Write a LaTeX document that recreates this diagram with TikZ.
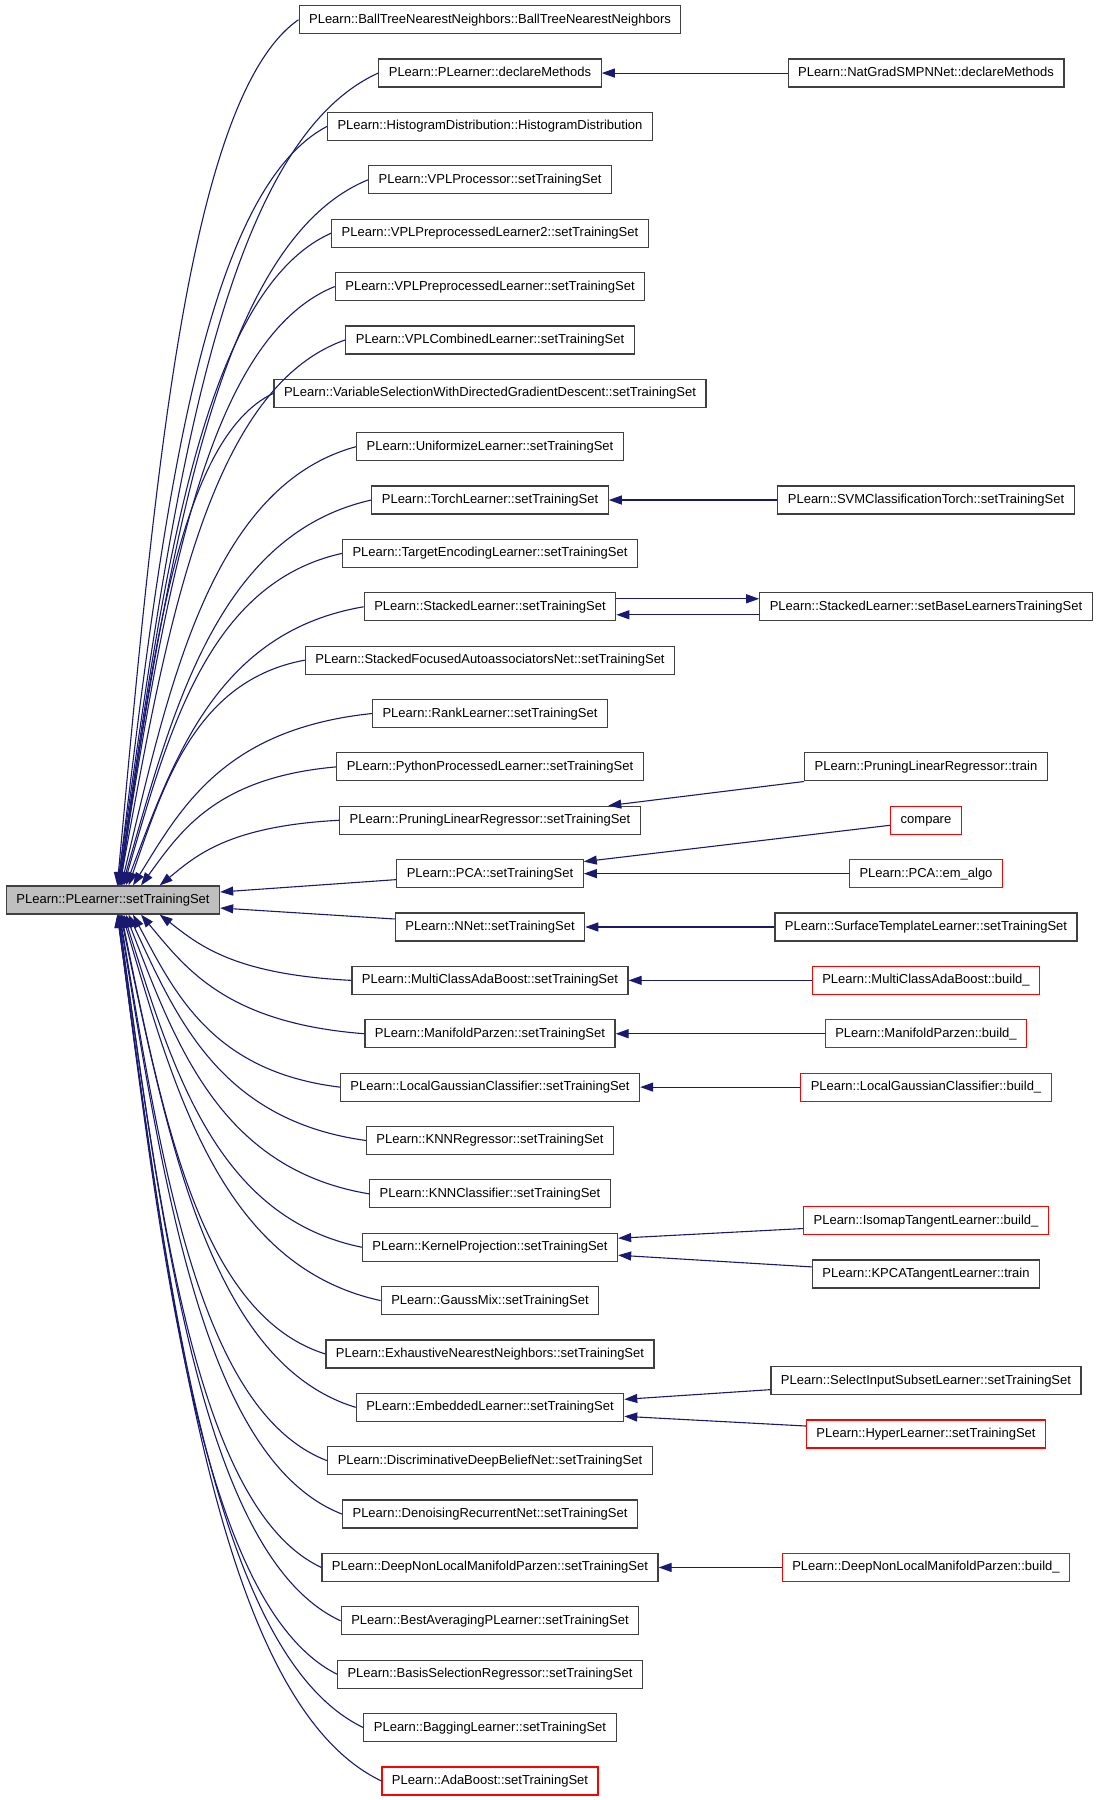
\documentclass[tikz,border=0pt]{standalone}
\usepackage{fontspec}
\setmainfont{Liberation Sans}
\usetikzlibrary{arrows.meta,calc}
\definecolor{edgeblue}{HTML}{191970}
\definecolor{boxgray}{HTML}{404040}
\definecolor{boxred}{HTML}{FF0000}
\definecolor{rootgray}{HTML}{BFBFBF}

\begin{document}
\begin{tikzpicture}[x=1pt, y=-1pt,
    box/.style={draw=boxgray, line width=1.2pt, fill=white, font=\fontsize{13pt}{15pt}\selectfont,
        inner xsep=10pt, inner ysep=0pt, minimum height=28pt, text height=9.5pt, text depth=2.5pt},
    redbox/.style={box, draw=boxred},
    rootbox/.style={box, fill=rootgray},
    edge/.style={draw=edgeblue, line width=1.1pt, -{Triangle[length=13pt, width=9pt]}}]
        \def\midx{490}
        \def\rightx{926}
        \def\rowh{53.37}

        \useasboundingbox (0, 0) rectangle (1099, 1800);

        % The called method on the left
        \node[rootbox] (plearner) at (113, 900) {PLearn::PLearner::setTrainingSet};

        % Draw the callers in the middle column, one row each
        \foreach \name/\txt/\sty [count=\i from 0] in {
            balltree/PLearn::BallTreeNearestNeighbors::BallTreeNearestNeighbors/box,
            declare/PLearn::PLearner::declareMethods/box,
            histogram/PLearn::HistogramDistribution::HistogramDistribution/box,
            vplproc/PLearn::VPLProcessor::setTrainingSet/box,
            vplprep2/PLearn::VPLPreprocessedLearner2::setTrainingSet/box,
            vplprep/PLearn::VPLPreprocessedLearner::setTrainingSet/box,
            vplcomb/PLearn::VPLCombinedLearner::setTrainingSet/box,
            varsel/PLearn::VariableSelectionWithDirectedGradientDescent::setTrainingSet/box,
            uniformize/PLearn::UniformizeLearner::setTrainingSet/box,
            torch/PLearn::TorchLearner::setTrainingSet/box,
            targetenc/PLearn::TargetEncodingLearner::setTrainingSet/box,
            stacked/PLearn::StackedLearner::setTrainingSet/box,
            stackedfocused/PLearn::StackedFocusedAutoassociatorsNet::setTrainingSet/box,
            rank/PLearn::RankLearner::setTrainingSet/box,
            python/PLearn::PythonProcessedLearner::setTrainingSet/box,
            pruneset/PLearn::PruningLinearRegressor::setTrainingSet/box,
            pca/PLearn::PCA::setTrainingSet/box,
            nnet/PLearn::NNet::setTrainingSet/box,
            mcab/PLearn::MultiClassAdaBoost::setTrainingSet/box,
            manifold/PLearn::ManifoldParzen::setTrainingSet/box,
            localgauss/PLearn::LocalGaussianClassifier::setTrainingSet/box,
            knnreg/PLearn::KNNRegressor::setTrainingSet/box,
            knnclass/PLearn::KNNClassifier::setTrainingSet/box,
            kernelproj/PLearn::KernelProjection::setTrainingSet/box,
            gaussmix/PLearn::GaussMix::setTrainingSet/box,
            exhaustive/PLearn::ExhaustiveNearestNeighbors::setTrainingSet/box,
            embedded/PLearn::EmbeddedLearner::setTrainingSet/box,
            discdbn/PLearn::DiscriminativeDeepBeliefNet::setTrainingSet/box,
            denoising/PLearn::DenoisingRecurrentNet::setTrainingSet/box,
            deepnonlocal/PLearn::DeepNonLocalManifoldParzen::setTrainingSet/box,
            bestavg/PLearn::BestAveragingPLearner::setTrainingSet/box,
            basissel/PLearn::BasisSelectionRegressor::setTrainingSet/box,
            bagging/PLearn::BaggingLearner::setTrainingSet/box,
            adaboost/PLearn::AdaBoost::setTrainingSet/redbox} {
            \node[\sty] (\name) at (\midx, {19.7 + \rowh * \i}) {\txt};
        }

        % Draw the callers of the callers in the right column
        \foreach \name/\txt/\sty/\row in {
            natgrad/PLearn::NatGradSMPNNet::declareMethods/box/1,
            svm/PLearn::SVMClassificationTorch::setTrainingSet/box/9,
            setbase/PLearn::StackedLearner::setBaseLearnersTrainingSet/box/11,
            prunetrain/PLearn::PruningLinearRegressor::train/box/14,
            compare/compare/redbox/15,
            emalgo/PLearn::PCA::em\_algo/redbox/16,
            surface/PLearn::SurfaceTemplateLearner::setTrainingSet/box/17,
            mcabbuild/PLearn::MultiClassAdaBoost::build\_/redbox/18,
            manifoldbuild/PLearn::ManifoldParzen::build\_/redbox/19,
            localgaussbuild/PLearn::LocalGaussianClassifier::build\_/redbox/20,
            isomap/PLearn::IsomapTangentLearner::build\_/redbox/22.5,
            kpca/PLearn::KPCATangentLearner::train/box/23.5,
            selectinput/PLearn::SelectInputSubsetLearner::setTrainingSet/box/25.5,
            hyper/PLearn::HyperLearner::setTrainingSet/redbox/26.5,
            deepnonlocalbuild/PLearn::DeepNonLocalManifoldParzen::build\_/redbox/29} {
            \node[\sty] (\name) at (\rightx, {19.7 + \rowh * \row}) {\txt};
        }

        % Connect the upper callers to the top of the left node
        \foreach \name [count=\i from 0] in {balltree, declare, histogram, vplproc, vplprep2, vplprep, vplcomb, varsel,
            uniformize, torch, targetenc, stacked, stackedfocused, rank, python, pruneset} {
            \pgfmathsetmacro{\ex}{70/(16.5-\i)}
            \draw[edge] let \p1 = (\name.west), \p2 = ([xshift=\ex pt]plearner.north) in
                (\p1) .. controls ({\x1-0.62*(\x1-\x2)}, {\y1-0.09*(\y1-\y2)}) and ({\x2+0.2*(\x1-\x2)}, {\y2+0.45*(\y1-\y2)}) .. (\p2);
        }

        % Connect the lower callers to the bottom of the left node
        \foreach \name [count=\i from 18] in {mcab, manifold, localgauss, knnreg, knnclass, kernelproj, gaussmix, exhaustive,
            embedded, discdbn, denoising, deepnonlocal, bestavg, basissel, bagging, adaboost} {
            \pgfmathsetmacro{\ex}{70/(\i-16.5)}
            \draw[edge] let \p1 = (\name.west), \p2 = ([xshift=\ex pt]plearner.south) in
                (\p1) .. controls ({\x1-0.62*(\x1-\x2)}, {\y1-0.09*(\y1-\y2)}) and ({\x2+0.2*(\x1-\x2)}, {\y2+0.45*(\y1-\y2)}) .. (\p2);
        }

        % The two rows level with the left node go straight in
        \draw[edge] ([yshift=-6pt]pca.west) -- ([yshift=8pt]plearner.east);
        \draw[edge] ([yshift=8pt]nnet.west) -- ([yshift=-8pt]plearner.east);

        % Connect the right column to the middle column
        \draw[edge] (natgrad) -- (declare);
        \draw[edge] (svm) -- (torch);
        \draw[edge] ([yshift=8pt]stacked.east) -- ([yshift=8pt]setbase.west);
        \draw[edge] ([yshift=-8pt]setbase.west) -- ([yshift=-8pt]stacked.east);
        \draw[edge] (prunetrain.south west) -- (pruneset);
        \draw[edge] ([yshift=-5pt]compare.west) -- ([yshift=12pt]pca.east);
        \draw[edge] (emalgo) -- (pca);
        \draw[edge] (surface) -- (nnet);
        \draw[edge] (mcabbuild) -- (mcab);
        \draw[edge] (manifoldbuild) -- (manifold);
        \draw[edge] (localgaussbuild) -- (localgauss);
        \draw[edge] ([yshift=-8pt]isomap.west) -- ([yshift=9pt]kernelproj.east);
        \draw[edge] ([yshift=7pt]kpca.west) -- ([yshift=-8pt]kernelproj.east);
        \draw[edge] ([yshift=-9pt]selectinput.west) -- ([yshift=8pt]embedded.east);
        \draw[edge] ([yshift=8pt]hyper.west) -- ([yshift=-9pt]embedded.east);
        \draw[edge] (deepnonlocalbuild) -- (deepnonlocal);
    \end{tikzpicture}
\end{document}
